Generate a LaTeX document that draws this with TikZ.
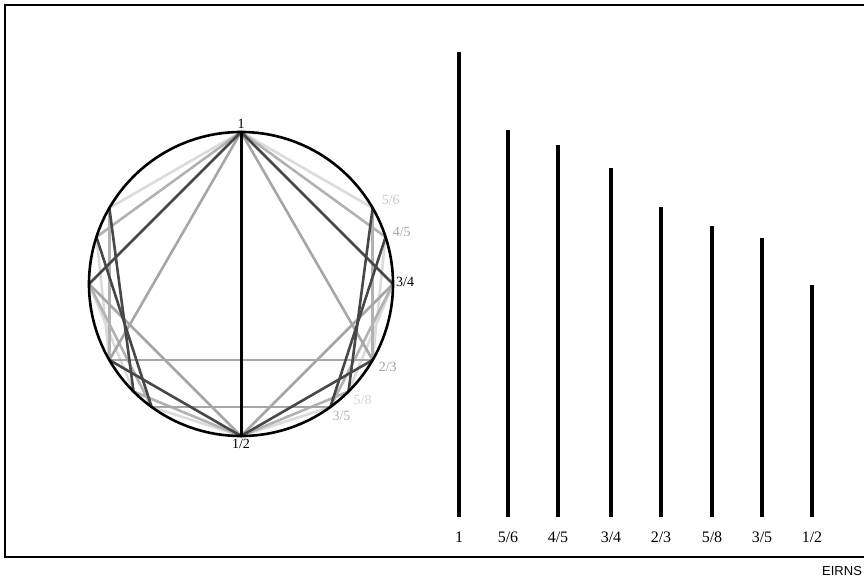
\documentclass[tikz,border=0pt]{standalone}
\usepackage{fontspec}
\setmainfont{Liberation Serif}
\newfontfamily\creditfont{Liberation Sans}
\usepackage{tikz}
\usetikzlibrary{calc,positioning}

\begin{document}
\begin{tikzpicture}[x=1pt, y=-1pt,
  chord/.style={line width=2.6pt, line cap=round},
  octave/.style={chord, black, line width=3pt},
  fifth/.style={chord, gray!70},
  fourth/.style={chord, black!72},
  majthird/.style={chord, gray!60},
  minthird/.style={chord, gray!28},
  tone/.style={font=\fontsize{14}{15}\selectfont, inner sep=0pt},
  barlabel/.style={font=\fontsize{16}{17}\selectfont, inner sep=0pt},
  bar/.style={line width=3.6pt}]
\useasboundingbox (0,0) rectangle (864,577);
% frame
\draw[line width=1.4pt] (864,5) -- (5,5) -- (5,557) -- (864,557);
% tone circle
\coordinate (c) at (241,284);
\foreach \n/\a in {p1/0, p56/60, p45/72, p34/90, p23/120, p58/135, p35/144, p12/180} {
  \coordinate (\n R) at ($(c)+({152*sin(\a)},{-152*cos(\a)})$);
  \coordinate (\n L) at ($(c)+({-152*sin(\a)},{-152*cos(\a)})$);
}
\foreach \s in {R,L} {
  \draw[minthird] (p1\s) -- (p56\s);
  \draw[minthird] (p45\s) -- (p23\s);
  \draw[minthird] (p34\s) -- (p58\s);
  \draw[minthird] (p35\s) -- (p12\s);
}
\foreach \s in {R,L} {
  \draw[majthird] (p1\s) -- (p45\s);
  \draw[majthird] (p56\s) -- (p23\s);
  \draw[majthird] (p34\s) -- (p35\s);
  \draw[majthird] (p58\s) -- (p12\s);
  \draw[fifth] (p1\s) -- (p23\s);
  \draw[fifth] (p34\s) -- (p12\s);
}
\draw[fifth] (p23L) -- (p23R);
\draw[fifth] (p35L) -- (p35R);
\foreach \s in {R,L} {
  \draw[fourth] (p1\s) -- (p34\s);
  \draw[fourth] (p56\s) -- (p58\s);
  \draw[fourth] (p45\s) -- (p35\s);
  \draw[fourth] (p23\s) -- (p12\s);
}
\draw[octave] (p1R) -- (p12R);
\draw[line width=2.6pt] (c) circle[radius=152];
% tone labels
\node[tone, above=3pt of p1R] (l1) {1};
\node[tone, below=3pt of p12R] (l12) {1/2};
\node[tone, anchor=west, text=gray!45] (l56) at ($(p56R)+(9,-8)$) {5/6};
\node[tone, anchor=west, text=gray!70] (l45) at ($(p45R)+(7,-5)$) {4/5};
\node[tone, anchor=west] (l34) at ($(p34R)+(3,-2)$) {3/4};
\node[tone, anchor=west, text=gray!75] (l23) at ($(p23R)+(6,7)$) {2/3};
\node[tone, anchor=west, text=gray!35] (l58) at ($(p58R)+(5,8)$) {5/8};
\node[tone, anchor=west, text=gray!60] (l35) at ($(p35R)+(2,9)$) {3/5};
% string lengths
\foreach \i/\x/\r/\t in {1/459/1/1, 2/508/0.8333/{5/6}, 3/558/0.8/{4/5}, 4/611/0.75/{3/4},
    5/661/0.6667/{2/3}, 6/712/0.625/{5/8}, 7/762/0.6/{3/5}, 8/812/0.5/{1/2}} {
  \coordinate (bot\i) at (\x,517);
  \coordinate (top\i) at (\x,{517-465*\r});
  \draw[bar] (bot\i) -- (top\i);
  \node[barlabel] (lab\i) at (\x,537) {\t};
}
\node[font=\creditfont\fontsize{13}{14}\selectfont, anchor=west, inner sep=0pt] (src) at (822,571) {EIRNS};
\end{tikzpicture}
\end{document}
